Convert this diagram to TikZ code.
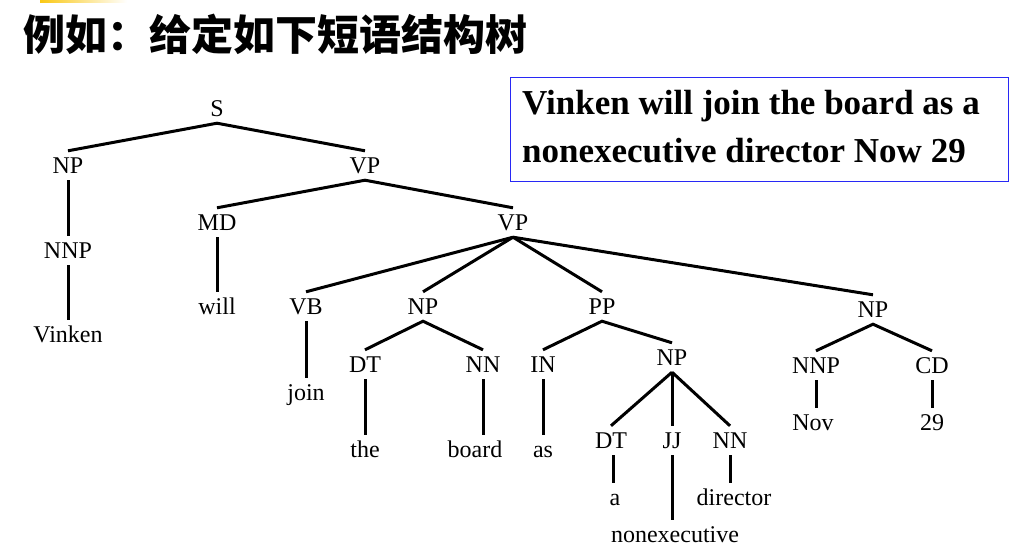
\documentclass[tikz,border=0pt]{standalone}
\usepackage{fontspec}
\setmainfont{Liberation Serif}
\newfontfamily\cjk{Noto Sans CJK SC}
\definecolor{boxblue}{RGB}{40,40,245}
\definecolor{tabyellow}{RGB}{250,200,20}
\tikzset{
  tn/.style={font=\fontsize{24}{24}\selectfont, text height=15pt, text depth=0pt,
             inner xsep=0pt, inner ysep=7pt, anchor=base},
  edge/.style={line width=3pt, black},
  titlestyle/.style={anchor=base west, inner sep=0pt,
             font=\cjk\bfseries\fontsize{42}{42}\selectfont},
  boxtext/.style={anchor=base west, inner sep=0pt,
             font=\bfseries\fontsize{35}{35}\selectfont},
}
\begin{document}
\begin{tikzpicture}[x=1pt,y=-1pt]
\useasboundingbox (0,0) rectangle (1034,555);
% small clipped tab at top
\fill[left color=tabyellow, right color=white] (40,0) rectangle (127,2.5);
% title
\node[titlestyle] (title) at (23,50) {例如：给定如下短语结构树};
% sentence box
\node[draw=boxblue, line width=1.4pt, minimum width=498pt, minimum height=104pt,
      inner sep=0pt, anchor=north west] (box) at (510,77) {};
\node[boxtext] (l1) at (522,114) {Vinken will join the board as a};
\node[boxtext] (l2) at (522,162) {nonexecutive director Now 29};
% tree nodes
\node[tn] (S) at (217,116) {S};
\node[tn] (NPa) at (68,173) {NP};
\node[tn] (VPa) at (365,173) {VP};
\node[tn] (NNPa) at (68,258) {NNP};
\node[tn] (Vinken) at (68,342) {Vinken};
\node[tn] (MD) at (217,230) {MD};
\node[tn] (VPb) at (513,230) {VP};
\node[tn] (will) at (217,314) {will};
\node[tn] (VB) at (306,314) {VB};
\node[tn] (NPb) at (423,314) {NP};
\node[tn] (PP) at (602,314) {PP};
\node[tn] (NPd) at (873,317) {NP};
\node[tn] (join) at (306,400) {join};
\node[tn] (DTa) at (365,372) {DT};
\node[tn] (NNa) at (483,372) {NN};
\node[tn] (the) at (365,457) {the};
\node[tn] (board) at (475,457) {board};
\node[tn] (IN) at (543,372) {IN};
\node[tn] (as) at (543,457) {as};
\node[tn] (NPc) at (672,365) {NP};
\node[tn] (DTb) at (611,448) {DT};
\node[tn] (JJ) at (672,448) {JJ};
\node[tn] (NNb) at (730,448) {NN};
\node[tn] (a) at (615,505) {a};
\node[tn] (director) at (734,505) {director};
\node[tn] (nonexec) at (675,542) {nonexecutive};
\node[tn] (NNPb) at (816,373) {NNP};
\node[tn] (CD) at (932,373) {CD};
\node[tn] (Nov) at (813,430) {Nov};
\node[tn] (n29) at (932,430) {29};
% edges
\draw[edge] (NPa.north) -- (S.south) -- (VPa.north);
\draw[edge] (NPa.south) -- (NNPa.north);
\draw[edge] (NNPa.south) -- (NNPa.south |- Vinken.north);
\draw[edge] (MD.north) -- (VPa.south) -- (VPb.north);
\draw[edge] (MD.south) -- (MD.south |- will.north);
\draw[edge] (VPb.south) -- (VB.north);
\draw[edge] (VPb.south) -- (NPb.north);
\draw[edge] (VPb.south) -- (PP.north);
\draw[edge] (VPb.south) -- (NPd.north);
\draw[edge] (VB.south) -- (VB.south |- join.north);
\draw[edge] (DTa.north) -- (NPb.south) -- (NNa.north);
\draw[edge] (DTa.south) -- (DTa.south |- the.north);
\draw[edge] (NNa.south) -- (NNa.south |- board.north);
\draw[edge] (IN.north) -- (PP.south) -- (NPc.north);
\draw[edge] (IN.south) -- (IN.south |- as.north);
\draw[edge] (NPc.south) -- (DTb.north);
\draw[edge] (NPc.south) -- (JJ.north);
\draw[edge] (NPc.south) -- (NNb.north);
\draw[edge] ([xshift=2pt]DTb.south) -- ([xshift=2pt]DTb.south |- a.north);
\draw[edge] (JJ.south) -- (JJ.south |- nonexec.north);
\draw[edge] (NNb.south) -- (NNb.south |- director.north);
\draw[edge] (NNPb.north) -- (NPd.south) -- (CD.north);
\draw[edge] (NNPb.south) -- (NNPb.south |- Nov.north);
\draw[edge] (CD.south) -- (CD.south |- n29.north);
\end{tikzpicture}
\end{document}
